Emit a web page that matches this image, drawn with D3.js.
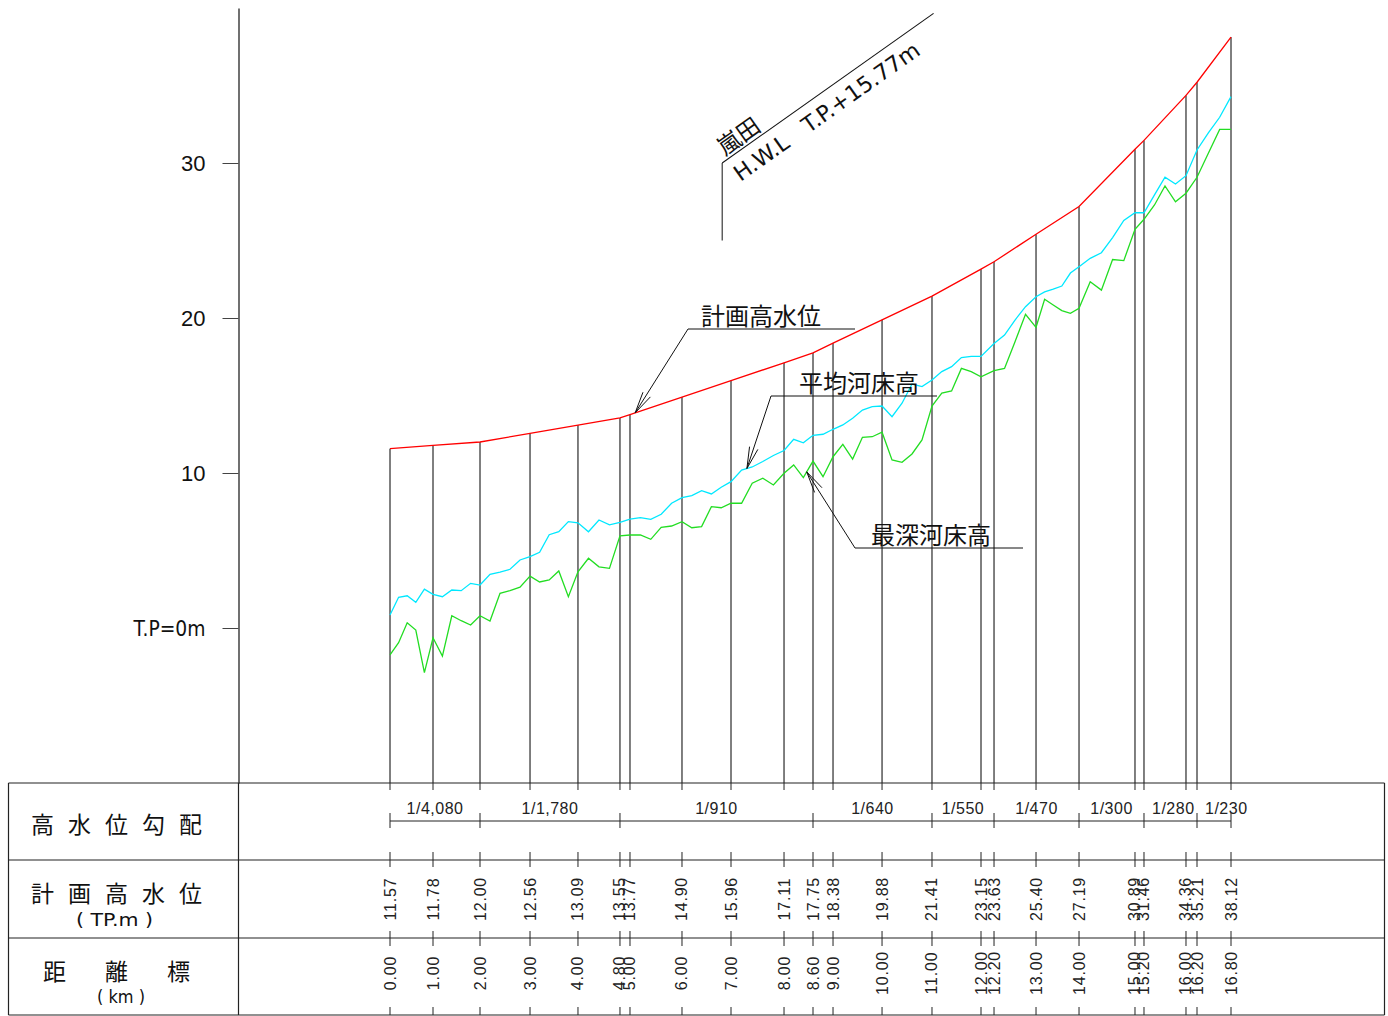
<!DOCTYPE html>
<html>
<head>
<meta charset="utf-8">
<script src="https://cdn.jsdelivr.net/npm/d3@7"></script>
<style>
  html, body { margin: 0; padding: 0; background: #fff; }
  svg { display: block; }
  .cjk { font-family: "Noto Sans CJK JP", "Noto Sans", sans-serif; }
  .num { font-family: "Liberation Sans", Arial, sans-serif; }
  .narrow { font-family: "Liberation Sans Narrow", "DejaVu Sans Condensed", "Liberation Sans", sans-serif; }
</style>
</head>
<body>
<svg id="chart" width="1388" height="1016"></svg>
<script>
// ---- 距離標 (nominal km) and cumulative distance along the channel (km) ----
const stationKm = [0, 1, 2, 3, 4, 4.8, 5, 6, 7, 8, 8.6, 9, 10, 11, 12, 12.2, 13, 14, 15, 15.2, 16, 16.2, 16.8];
const stationLabels = ["0.00", "1.00", "2.00", "3.00", "4.00", "4.80", "5.00", "6.00", "7.00", "8.00", "8.60", "9.00",
  "10.00", "11.00", "12.00", "12.20", "13.00", "14.00", "15.00", "15.20", "16.00", "16.20", "16.80"];
const stationChainage = [0, 0.859, 1.798, 2.797, 3.755, 4.594, 4.794, 5.833, 6.812, 7.871, 8.450, 8.850,
  9.829, 10.827, 11.806, 12.066, 12.905, 13.764, 14.882, 15.062, 15.901, 16.121, 16.800];

// ---- 計画高水位 (TP.m) at each 距離標 ----
const planHWL = [11.57, 11.78, 12.00, 12.56, 13.09, 13.55, 13.77, 14.90, 15.96, 17.11, 17.75, 18.38,
  19.88, 21.41, 23.15, 23.63, 25.40, 27.19, 30.89, 31.46, 34.36, 35.21, 38.12];

// ---- 高水位勾配 sections ----
const slopeBreaksKm = [0, 2, 4.8, 8.6, 11, 12.2, 14, 15.2, 16.2, 16.8];
const slopeLabels = ["1/4,080", "1/1,780", "1/910", "1/640", "1/550", "1/470", "1/300", "1/280", "1/230"];

// ---- bed profiles surveyed every 0.2 km, 0.0 km to 16.8 km (TP.m) ----
const profileKm = d3.range(0, 85).map(i => +(i * 0.2).toFixed(1));
const meanBed = [
  0.84, 1.98, 2.08, 1.66, 2.50, 2.17, 2.02, 2.45, 2.41, 2.88,
  2.77, 3.46, 3.61, 3.79, 4.39, 4.60, 4.88, 6.02, 6.21, 6.86,
  6.79, 6.21, 6.97, 6.65, 6.82, 7.03, 7.12, 7.01, 7.34, 8.05,
  8.41, 8.54, 8.86, 8.65, 9.08, 9.44, 10.19, 10.39, 10.74, 11.13,
  11.45, 12.17, 11.95, 12.43, 12.50, 12.82, 13.10, 13.53, 14.06, 14.28,
  14.32, 13.63, 14.50, 15.74, 15.58, 16.00, 16.54, 16.86, 17.45, 17.53,
  17.52, 18.35, 18.90, 19.87, 20.73, 21.37, 21.68, 21.86, 22.06, 22.90,
  23.31, 23.85, 24.21, 25.19, 26.29, 26.79, 26.79, 27.94, 29.08, 28.65,
  29.18, 30.84, 31.94, 32.95, 34.28];
const deepestBed = [
  -1.74, -0.95, 0.34, -0.13, -2.88, -0.63, -1.81, 0.79, 0.47, 0.19,
  0.79, 0.45, 2.24, 2.41, 2.63, 3.35, 2.97, 3.10, 3.68, 2.02,
  3.63, 4.50, 3.95, 3.85, 5.95, 6.00, 6.00, 5.72, 6.50, 6.58,
  6.86, 6.47, 6.54, 7.83, 7.76, 8.05, 8.05, 9.34, 9.66, 9.23,
  9.98, 10.52, 9.70, 10.77, 9.76, 11.05, 11.85, 10.90, 12.30, 12.34,
  12.63, 10.84, 10.69, 11.23, 12.13, 14.32, 15.16, 15.29, 16.75, 16.54,
  16.21, 16.60, 16.75, 18.47, 20.24, 19.40, 21.21, 20.84, 20.48, 20.30,
  20.63, 22.34, 21.80, 23.77, 23.70, 25.72, 26.37, 27.29, 28.52, 27.50,
  28.05, 29.08, 30.63, 32.17, 32.17];

// ---- elevation axis ----
const yTicks = [0, 10, 20, 30];

// ---- 嵐田 water-level gauge ----
const gaugeName = "嵐田";
const gaugeKm = 6.82;
const gaugeHWL = 15.77;

// =====================================================================
const svg = d3.select("#chart");

const kmToChainage = d3.scaleLinear().domain(stationKm).range(stationChainage);
const x = d3.scaleLinear().domain([0, 16.8]).range([390, 1231]);
const y = d3.scaleLinear().domain([-10, 40]).range([783, 8]);
const X = km => x(kmToChainage(km));

const stations = stationKm.map((km, i) => ({ km, label: stationLabels[i], hwl: planHWL[i] }));
const hwlAt = d3.scaleLinear().domain(stationKm).range(planHWL);
const meanAt = d3.scaleLinear().domain(profileKm).range(meanBed);
const deepAt = d3.scaleLinear().domain(profileKm).range(deepestBed);

// ---- elevation axis ----
const yAxis = d3.axisLeft(y)
  .tickValues(yTicks)
  .tickSize(16)
  .tickSizeOuter(0)
  .tickPadding(17)
  .tickFormat(d => d === 0 ? "T.P=0m" : d);
const gy = svg.append("g").attr("transform", "translate(238.5,0)").call(yAxis);
gy.select(".domain").attr("stroke", "#111").attr("stroke-width", 1.2);
gy.selectAll(".tick line").attr("stroke", "#444");
gy.selectAll(".tick text")
  .attr("fill", "#111")
  .attr("font-size", 22)
  .attr("class", d => d === 0 ? "narrow" : "num");
gy.selectAll(".tick text").filter(d => d === 0)
  .attr("textLength", 72).attr("lengthAdjust", "spacingAndGlyphs");

// ---- station verticals from the plan HWL down to the table ----
svg.append("g").selectAll("line").data(stations).join("line")
  .attr("x1", d => X(d.km)).attr("x2", d => X(d.km))
  .attr("y1", d => y(d.hwl)).attr("y2", y(-10))
  .attr("stroke", "#000").attr("stroke-width", 1);

// ---- profile lines ----
const bedLine = d3.line().x((d, i) => X(profileKm[i])).y(d => y(d));
svg.append("path").datum(deepestBed).attr("d", bedLine)
  .attr("fill", "none").attr("stroke", "#22dd22").attr("stroke-width", 1.3);
svg.append("path").datum(meanBed).attr("d", bedLine)
  .attr("fill", "none").attr("stroke", "#00e8ff").attr("stroke-width", 1.3);
svg.append("path").datum(stations)
  .attr("d", d3.line().x(d => X(d.km)).y(d => y(d.hwl)))
  .attr("fill", "none").attr("stroke", "#ff0000").attr("stroke-width", 1.3);

// ---- leader annotations ----
function leader(tip, elbow, endX, label, labelX, labelY) {
  const g = svg.append("g");
  g.append("polyline")
    .attr("points", `${tip[0]},${tip[1]} ${elbow[0]},${elbow[1]} ${endX},${elbow[1]}`)
    .attr("fill", "none").attr("stroke", "#111").attr("stroke-width", 1);
  const ang = Math.atan2(elbow[1] - tip[1], elbow[0] - tip[0]);
  const len = 22, spread = 0.2;
  [ang - spread, ang + spread].forEach(a => {
    g.append("line")
      .attr("x1", tip[0]).attr("y1", tip[1])
      .attr("x2", tip[0] + len * Math.cos(a)).attr("y2", tip[1] + len * Math.sin(a))
      .attr("stroke", "#111").attr("stroke-width", 1);
  });
  g.append("text").attr("class", "cjk")
    .attr("x", labelX).attr("y", labelY)
    .attr("dominant-baseline", "central")
    .attr("font-size", 24).attr("fill", "#111")
    .text(label);
}
leader([X(5.1), y(hwlAt(5.1))], [688, 329], 855, "計画高水位", 701, 314);
leader([X(7.3), y(meanAt(7.3))], [771, 396], 937, "平均河床高", 799, 381);
leader([X(8.47), y(deepAt(8.47))], [855, 548], 1023, "最深河床高", 871, 533);

// ---- 嵐田 gauge callout ----
{
  const gx = X(gaugeKm), top = y(30);
  svg.append("line")
    .attr("x1", gx).attr("x2", gx).attr("y1", y(25)).attr("y2", top)
    .attr("stroke", "#111").attr("stroke-width", 1);
  const g = svg.append("g").attr("transform", `translate(${gx},${top}) rotate(-35.3)`);
  g.append("line").attr("x1", 0).attr("y1", 0).attr("x2", 259).attr("y2", 0)
    .attr("stroke", "#111").attr("stroke-width", 1);
  g.append("text").attr("class", "cjk")
    .attr("x", 6).attr("y", -4).attr("font-size", 23).attr("fill", "#111")
    .text(gaugeName);
  g.append("text").attr("class", "narrow")
    .attr("x", 4).attr("y", 26).attr("font-size", 22).attr("fill", "#111")
    .attr("textLength", 222).attr("lengthAdjust", "spacingAndGlyphs")
    .text(`H.W.L\u00a0\u00a0\u00a0T.P.+${gaugeHWL.toFixed(2)}m`);
}

// ---- data table ----
const T = { left: 8.5, right: 1384.5, top: 783, r1: 860, r2: 938, bottom: 1015, div: 238.5 };
const tg = svg.append("g").attr("stroke", "#222").attr("stroke-width", 1.2);
[T.top, T.r1, T.r2, T.bottom].forEach(yy => {
  tg.append("line").attr("x1", T.left).attr("x2", T.right).attr("y1", yy).attr("y2", yy);
});
[T.left, T.div, T.right].forEach(xx => {
  tg.append("line").attr("x1", xx).attr("x2", xx).attr("y1", T.top).attr("y2", T.bottom);
});

// station ticks on each row edge
const tickSpans = [[T.top, T.top + 7], [T.r1 - 8, T.r1 + 7], [T.r2 - 7, T.r2 + 8], [T.bottom - 8, T.bottom]];
const ticks = svg.append("g").attr("stroke", "#222").attr("stroke-width", 1);
tickSpans.forEach(([a, b]) => {
  ticks.selectAll(null).data(stations).join("line")
    .attr("x1", d => X(d.km)).attr("x2", d => X(d.km))
    .attr("y1", a).attr("y2", b);
});

// slope row
const slopeY = 821;
const sg = svg.append("g").attr("stroke", "#222").attr("stroke-width", 1);
sg.append("line").attr("x1", X(slopeBreaksKm[0])).attr("x2", X(slopeBreaksKm[slopeBreaksKm.length - 1]))
  .attr("y1", slopeY).attr("y2", slopeY);
sg.selectAll(null).data(slopeBreaksKm).join("line")
  .attr("x1", d => X(d)).attr("x2", d => X(d))
  .attr("y1", slopeY - 8).attr("y2", slopeY + 7);
const slopeText = svg.append("g").selectAll("text").data(slopeLabels).join("text")
  .attr("class", "num")
  .attr("y", 808)
  .attr("dominant-baseline", "central")
  .attr("font-size", 16).attr("letter-spacing", 0.5).attr("fill", "#222")
  .text(d => d);
// centre each label in its section; a label wider than its section starts just inside it
slopeText.each(function (d, i) {
  const x0 = X(slopeBreaksKm[i]), x1 = X(slopeBreaksKm[i + 1]);
  const w = this.getComputedTextLength();
  const start = (w + 16 > x1 - x0) ? x0 + 8 : (x0 + x1) / 2 - w / 2;
  d3.select(this).attr("x", start);
});

// 計画高水位 values
svg.append("g").selectAll("text").data(stations).join("text")
  .attr("class", "num")
  .attr("transform", d => `translate(${X(d.km)},899) rotate(-90)`)
  .attr("text-anchor", "middle").attr("dominant-baseline", "central")
  .attr("font-size", 16).attr("letter-spacing", 0.8).attr("fill", "#222")
  .text(d => d.hwl.toFixed(2));

// 距離標 values
svg.append("g").selectAll("text").data(stations).join("text")
  .attr("class", "num")
  .attr("transform", d => `translate(${X(d.km)},973) rotate(-90)`)
  .attr("text-anchor", "middle").attr("dominant-baseline", "central")
  .attr("font-size", 16).attr("letter-spacing", 0.8).attr("fill", "#222")
  .text(d => d.label);

// row headings
const heads = [
  { t: "高水位勾配", x: 31, y: 823, ls: 14, fs: 23 },
  { t: "計画高水位", x: 31, y: 892, ls: 14, fs: 23 },
  { t: "距離標", x: 43, y: 970, ls: 39, fs: 23 }
];
svg.append("g").selectAll("text").data(heads).join("text")
  .attr("class", "cjk")
  .attr("x", d => d.x).attr("y", d => d.y)
  .attr("dominant-baseline", "central")
  .attr("font-size", d => d.fs).attr("letter-spacing", d => d.ls).attr("fill", "#111")
  .text(d => d.t);
const units = [{ t: "(\u00a0TP.m\u00a0)", x: 76, y: 920, w: 77 }, { t: "(\u00a0km\u00a0)", x: 97, y: 997, w: 48 }];
svg.append("g").selectAll("text").data(units).join("text")
  .attr("class", "narrow")
  .attr("x", d => d.x).attr("y", d => d.y)
  .attr("dominant-baseline", "central")
  .attr("font-size", 17).attr("fill", "#111")
  .attr("textLength", d => d.w).attr("lengthAdjust", "spacingAndGlyphs")
  .text(d => d.t);
</script>
</body>
</html>
